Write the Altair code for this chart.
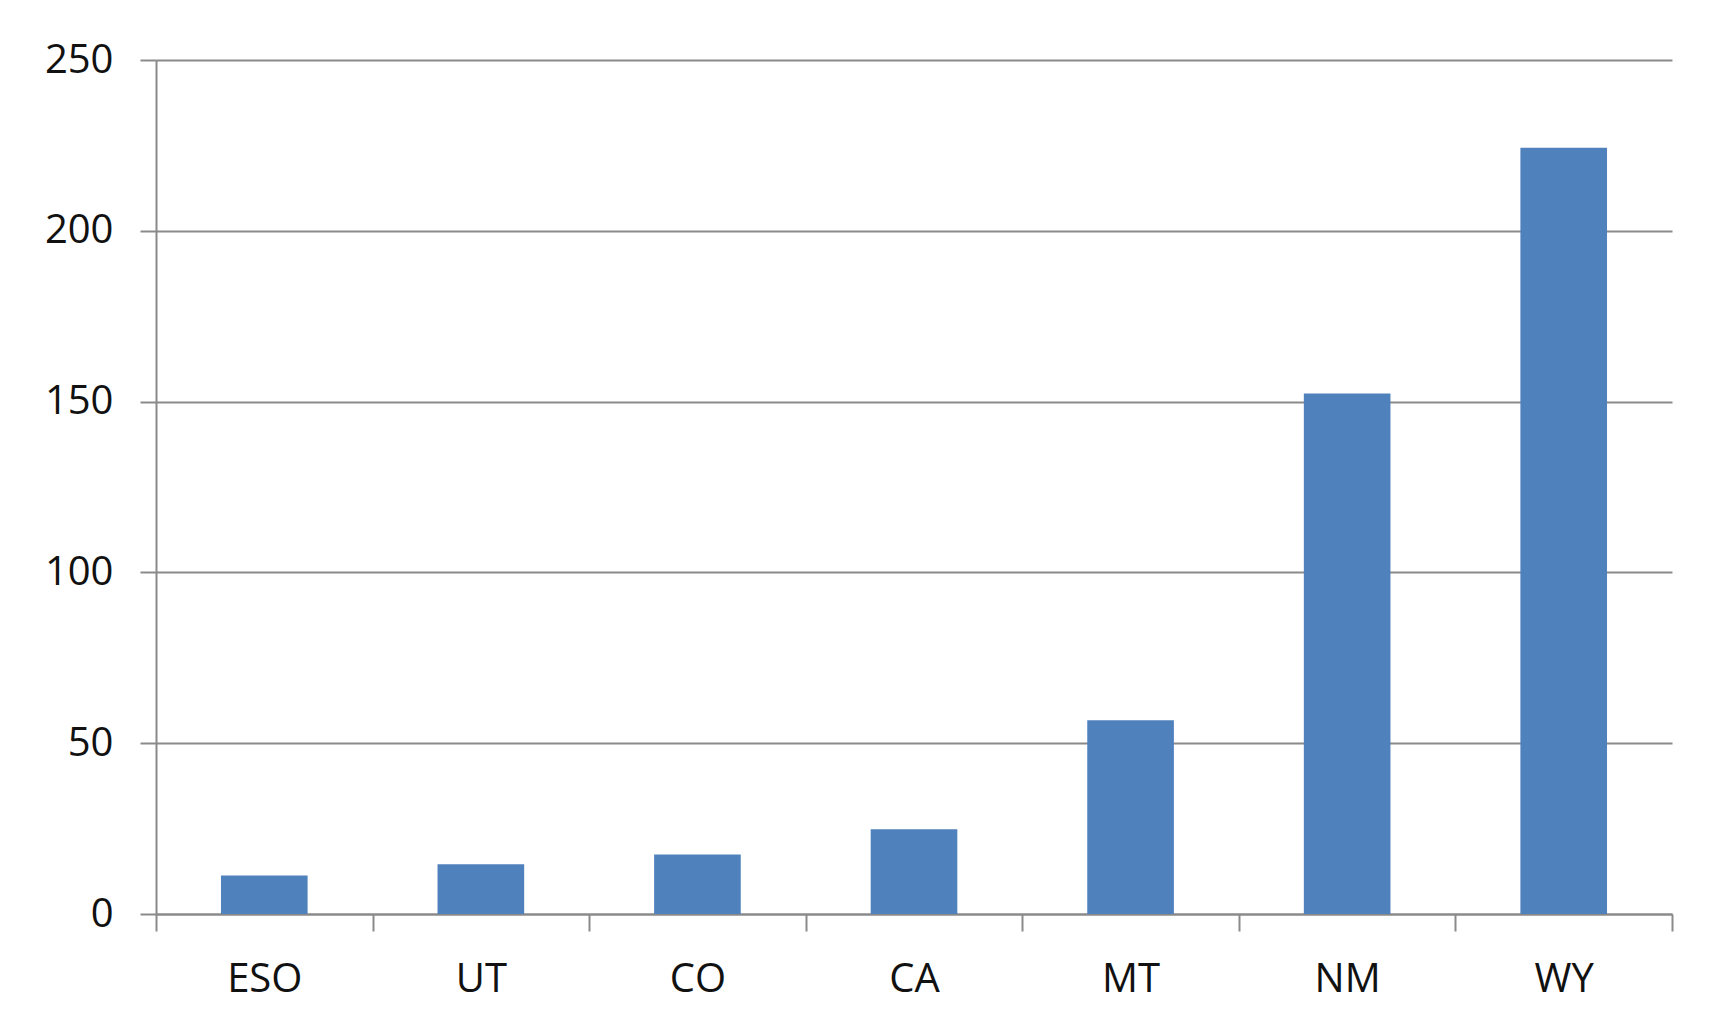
import altair as alt
import pandas as pd

states = ["ESO", "UT", "CO", "CA", "MT", "NM", "WY"]
values = [11.3, 14.6, 17.4, 24.8, 56.7, 152.4, 224.3]
y_ticks = [0, 50, 100, 150, 200, 250]

df = pd.DataFrame({"state": states, "value": values})

grid_color = "#8a8a8a"

chart = (
    alt.Chart(df)
    .mark_bar(width=alt.RelativeBandSize(0.4), color="#4F81BD")
    .encode(
        x=alt.X(
            "state:N",
            sort=states,
            title=None,
            scale=alt.Scale(paddingInner=0, paddingOuter=0),
            axis=alt.Axis(
                tickBand="extent",
                labelAngle=0,
                labelFont="Open Sans",
                labelFontSize=40,
                labelColor="#111111",
                labelPadding=28,
                tickSize=17,
                tickWidth=2,
                tickColor=grid_color,
                domainColor=grid_color,
                domainWidth=2,
                grid=False,
            ),
        ),
        y=alt.Y(
            "value:Q",
            title=None,
            scale=alt.Scale(domain=[0, 250], nice=False),
            axis=alt.Axis(
                values=y_ticks,
                labelFont="Open Sans",
                labelFontSize=40,
                labelColor="#111111",
                labelPadding=27,
                tickSize=16,
                tickWidth=2,
                tickColor=grid_color,
                domainColor=grid_color,
                domainWidth=2,
                grid=True,
                gridColor=grid_color,
                gridWidth=2,
            ),
        ),
    )
    .properties(
        width=1516,
        height=854,
        autosize=alt.AutoSizeParams(type="none"),
        padding={"left": 148, "top": 52, "right": 46, "bottom": 108},
        background="white",
    )
    .configure_view(stroke=None)
)

chart.save("out.html", embed_options={"renderer": "svg", "actions": False})
